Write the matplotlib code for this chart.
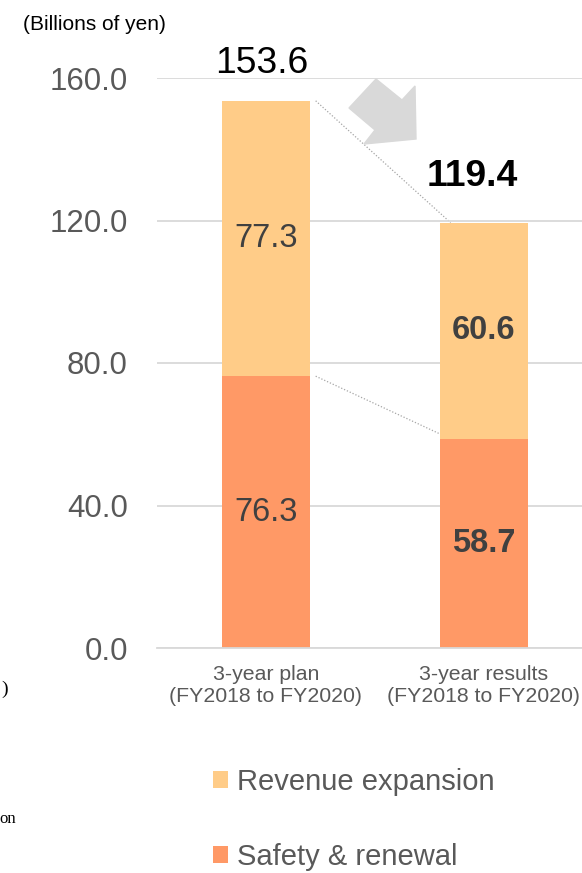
import matplotlib.pyplot as plt
import matplotlib.patches as mpatches
import numpy as np

plt.rcParams['font.family'] = ['Liberation Sans', 'DejaVu Sans']

categories = ["3-year plan\n(FY2018 to FY2020)", "3-year results\n(FY2018 to FY2020)"]
safety = [76.3, 58.7]
revenue = [77.3, 60.6]
totals = [153.6, 119.4]
yticks = [0, 40, 80, 120, 160]

c_rev = '#FFCC88'
c_safe = '#FF9966'
grey = '#595959'

W, H = 582, 873
fig = plt.figure(figsize=(W / 100, H / 100), dpi=100)
ax = fig.add_axes([157 / W, (H - 648) / H, 1 - 157 / W, (648 - 78) / H])

x = np.arange(len(categories))
w = 0.4
b1 = ax.bar(x, safety, w, color=c_safe, label='Safety & renewal', zorder=2)
b2 = ax.bar(x, revenue, w, bottom=safety, color=c_rev, label='Revenue expansion', zorder=2)

ax.set_xlim(-0.5, 1.45)
ax.set_ylim(0, 160)
ax.set_yticks(yticks)
ax.set_yticklabels([f"{v:.1f}" for v in yticks])
ax.set_xticks(x)
ax.set_xticklabels(categories, linespacing=1.25)
ax.tick_params(axis='y', length=0, pad=21, labelsize=22.5, labelcolor=grey)
ax.tick_params(axis='x', length=0, pad=12, labelsize=15.3, labelcolor=grey)
ax.grid(axis='y', color='#D9D9D9', linewidth=1.3, zorder=0)
for s in ['top', 'right', 'left']:
    ax.spines[s].set_visible(False)
ax.spines['bottom'].set_color('#D9D9D9')
ax.spines['bottom'].set_linewidth(1.3)

# segment labels
for i in range(len(categories)):
    wt = 'bold' if i == 1 else 'normal'
    ax.text(x[i], safety[i] / 2, f"{safety[i]:.1f}", ha='center', va='center',
            fontsize=23.5, color='#404040', fontweight=wt, zorder=3)
    ax.text(x[i], safety[i] + revenue[i] / 2, f"{revenue[i]:.1f}", ha='center', va='center',
            fontsize=23.5, color='#404040', fontweight=wt, zorder=3)

ax.annotate(f"{totals[0]:.1f}", (x[0], totals[0]), xytext=(-3, 14), textcoords='offset points',
            ha='center', va='bottom', fontsize=26.8, color='black', annotation_clip=False)
ax.annotate(f"{totals[1]:.1f}", (x[1], totals[1]), xytext=(-8, 20.5), textcoords='offset points',
            ha='center', va='bottom', fontsize=26.8, color='black', fontweight='bold',
            annotation_clip=False)

# dotted connectors
for tops in [totals, safety]:
    ax.plot([x[0] + w / 2 + 0.028, x[1] - w / 2 + 0.047], [tops[0], tops[1]],
            linestyle=(0, (1, 1.5)), color='#A6A6A6', linewidth=0.9, zorder=1)

# grey block arrow
pts = np.array([(376, 79), (402, 100), (415, 86), (416, 139), (364, 144), (375, 130), (349, 108)])
arrow = mpatches.Polygon(np.column_stack([pts[:, 0] / W, 1 - pts[:, 1] / H]),
                         closed=True, transform=fig.transFigure, color='#D9D9D9', zorder=1)
fig.patches.append(arrow)

fig.text(23 / W, 1 - 25 / H, "(Billions of yen)", ha='left', va='center', fontsize=15, color='black')

# cut-off fragments at the left edge
fig.text(1 / W, 1 - 689 / H, ")", ha='left', va='center', fontsize=14,
         family=['Liberation Serif'], color='black')
fig.text(-1 / W, 1 - 819 / H, "on", ha='left', va='center', fontsize=12,
         family=['Liberation Serif'], color='black')

leg = fig.legend(handles=[b2, b1], loc='upper left', bbox_to_anchor=(213 / W, 1 - 768 / H),
                 frameon=False, fontsize=21, handlelength=0.52, handleheight=0.52,
                 handletextpad=0.3, labelspacing=1.62, borderpad=0, borderaxespad=0)
for t in leg.get_texts():
    t.set_color(grey)

fig.savefig('out.png', dpi=100)
